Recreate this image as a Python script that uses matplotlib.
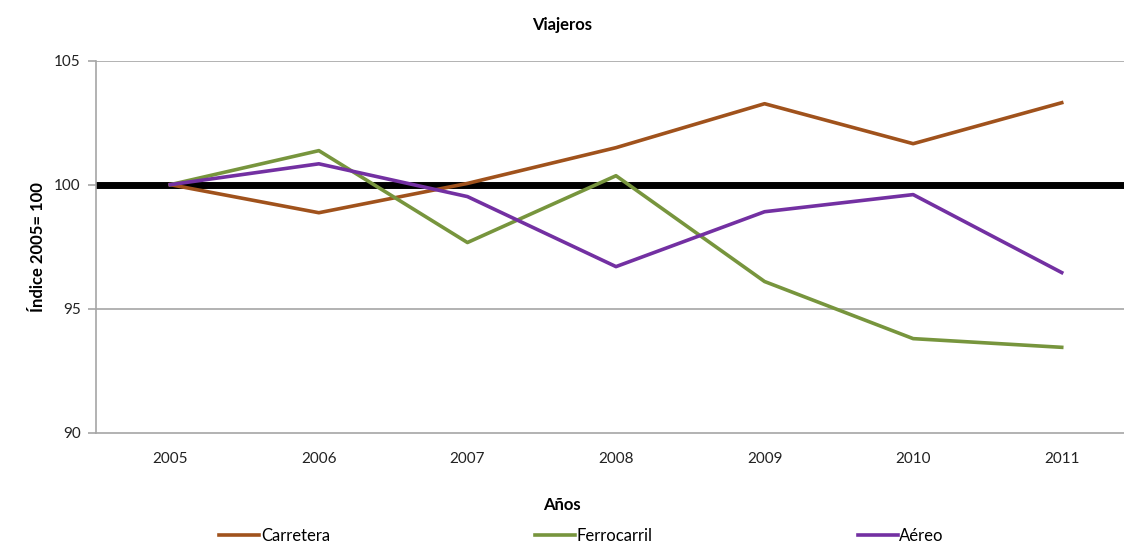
import matplotlib.pyplot as plt
import numpy as np

years = ['2005', '2006', '2007', '2008', '2009', '2010', '2011']
carretera = [100.0, 98.87, 100.05, 101.49, 103.26, 101.65, 103.3]
ferrocarril = [100.0, 101.37, 97.67, 100.36, 96.1, 93.8, 93.45]
aereo = [100.0, 100.84, 99.52, 96.7, 98.91, 99.6, 96.46]

plt.rcParams['font.family'] = ['Lato', 'DejaVu Sans']

fig = plt.figure(figsize=(11.24, 5.46), dpi=100)
W, H = 1124, 546
# axes box in pixels: left 96, right 1136 (cropped by figure), top 60.5, bottom 433
ax = fig.add_axes([96 / W, (H - 433) / H, (1136 - 96) / W, (433 - 60.5) / H])

x = np.arange(len(years))
grid_col = '#a6a6a6'
for v in [95, 105]:
    ax.axhline(v, color=grid_col, lw=1.2, zorder=1)
ax.axhline(100, color='black', lw=5, zorder=2)

ax.plot(x, carretera, color='#a0521c', lw=2.6, label='Carretera', zorder=3)
ax.plot(x, ferrocarril, color='#77953d', lw=2.6, label='Ferrocarril', zorder=3)
ax.plot(x, aereo, color='#7330a2', lw=2.6, label='Aéreo', zorder=3)

ax.set_xlim(-0.5, len(years) - 0.5)
ax.set_ylim(90, 105)
ax.set_yticks([90, 95, 100, 105])
ax.set_xticks(x)
ax.set_xticklabels(years)

for s in ['top', 'right']:
    ax.spines[s].set_visible(False)
for s in ['left', 'bottom']:
    ax.spines[s].set_color(grid_col)
    ax.spines[s].set_linewidth(1.2)

ax.tick_params(axis='y', length=6, width=1.2, color=grid_col, pad=5, labelsize=11, labelcolor='#222222')
ax.tick_params(axis='x', length=0, pad=14, labelsize=11, labelcolor='#222222')

fig.text(0.5, (H - 25) / H, 'Viajeros', ha='center', va='center', fontsize=12, fontweight='bold')
fig.text(0.5, (H - 505) / H, 'Años', ha='center', va='center', fontsize=12, fontweight='bold')
fig.text(38 / W, (H - 247) / H, 'Índice 2005= 100', ha='center', va='center', rotation=90,
         fontsize=12, fontweight='bold')

fig.legend(loc='center', bbox_to_anchor=(581.5 / W, (H - 536) / H), ncol=3, frameon=False,
           handlelength=2.4, handletextpad=0.1, columnspacing=12.3, fontsize=12,
           borderpad=0.1)

fig.savefig('out.png', dpi=100)
